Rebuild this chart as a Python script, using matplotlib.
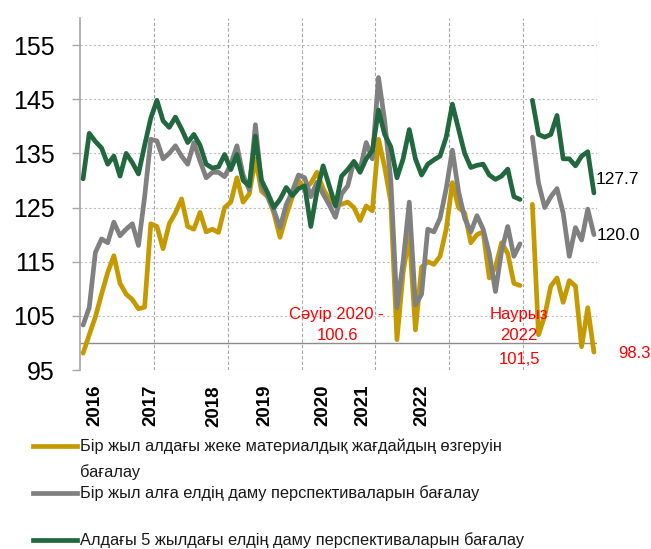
import numpy as np
import matplotlib
matplotlib.use("Agg")
import matplotlib.pyplot as plt
from matplotlib.lines import Line2D

nan = np.nan

# Monthly data Jan 2016 .. Dec 2022 (Jan 2022 missing)
personal_1y = [98.1, 101.5, 104.8, 109, 113, 116.1, 111, 109, 108, 106.3, 106.6, 122,
               121.5, 117.4, 122, 124, 126.6, 121.5, 121, 124.1, 120.5, 121, 120.4, 125,
               126, 130.5, 126, 127.5, 134, 128, 127, 124, 119.5, 123.5, 127, 130,
               128.5, 129.5, 131.5, 128.5, 126.5, 125.5, 125.6, 126, 125, 122.6, 125.3, 124.4,
               137.6, 132.5, 126, 100.6, 113, 120, 102.4, 114, 115, 114.5, 116, 121,
               129.6, 125, 124, 118.5, 120, 120.5, 112, 114, 118.5, 116.5, 111, 110.6,
               nan, 125.6, 101.5, 105, 110.5, 112, 107.5, 111.5, 110.5, 99.3, 106.5, 98.3]

country_1y = [103.3, 106.5, 116.7, 119.2, 118.5, 122.3, 119.8, 121, 122, 118, 127, 137.6,
              137.3, 134, 135, 136.4, 134.5, 133, 137, 133.6, 130.5, 131.5, 131.5, 130.7,
              133, 136.4, 131, 128.3, 140.3, 129, 127, 124.5, 121.3, 125.5, 128, 131,
              130.5, 127, 129.7, 127.5, 125.5, 123.2, 127.5, 129, 133.5, 132, 137, 134,
              149, 141, 130, 106.5, 115, 126, 107, 109, 121, 120.5, 123, 128.5,
              135.6, 128, 123, 120.5, 123.5, 121, 116.5, 109.5, 117, 121.5, 116, 118.3,
              nan, 138, 129.5, 125, 127, 128.5, 124, 116, 121.3, 119, 124.7, 120.0]

country_5y = [130.3, 138.7, 137.2, 136, 133, 134.5, 130.8, 135, 133.3, 131.2, 136.5, 141.5,
              144.8, 141, 139.8, 141.7, 139.5, 137, 138.5, 136.5, 133, 132.3, 132.5, 134.8,
              132, 134.8, 130, 129, 138.2, 130, 127.7, 125, 126.5, 128.7, 127.2, 128.5,
              129, 121.5, 128, 132.7, 129, 125.3, 130.8, 132, 133.5, 131.5, 134, 135.5,
              143, 138.5, 136.2, 130.5, 134, 139.4, 134, 131, 133, 133.8, 134.5, 138,
              144.1, 139.5, 135, 132.4, 132.8, 133, 131, 130.2, 130.8, 132.1, 127, 126.5,
              nan, 144.8, 138.5, 138, 138.5, 142, 134, 134, 132.7, 134.5, 135.3, 127.7]

year_labels = ["2016", "2017", "2018", "2019", "2020", "2021", "2022"]
year_label_pos = [2.4, 11.5, 21.7, 30.1, 39.5, 46.0, 55.5]

series_names = ["Бір жыл алдағы жеке материалдық жағдайдың өзгеруін\nбағалау",
                "Бір жыл алға елдің даму перспективаларын бағалау",
                "Алдағы 5 жылдағы елдің даму перспективаларын бағалау"]
colors = ["#C49A00", "#808080", "#21683F"]

yticks = [95, 105, 115, 125, 135, 145, 155]

W, H = 651, 549
fig = plt.figure(figsize=(W / 100, H / 100), dpi=100)
ax = fig.add_axes([80 / W, 1 - 370 / H, (597 - 80) / W, (370 - 18) / H])

x = np.arange(len(personal_1y)) + 0.5
for vals, c in zip([personal_1y, country_1y, country_5y], colors):
    ax.plot(x, vals, color=c, lw=3.4, solid_joinstyle="round", solid_capstyle="round", zorder=3)

ax.set_xlim(0, 84)
ax.set_ylim(95, 160)
ax.set_yticks(yticks)
ax.set_yticklabels([str(v) for v in yticks], fontsize=18, family="Liberation Sans")
ax.tick_params(axis="y", length=6, color="#A6A6A6", width=1, pad=12)
ax.set_xticks([])
for v in yticks:
    ax.axhline(v, color="#BFBFBF", lw=0.8, ls=(0, (2, 2)), zorder=1)
for v in range(12, 85, 12):
    ax.axvline(v, color="#A6A6A6", lw=0.8, ls=(0, (3, 2)), zorder=1)
ax.axhline(100, color="#8C8C8C", lw=1.0, zorder=2)
for s in ["top", "right", "bottom"]:
    ax.spines[s].set_visible(False)
ax.spines["left"].set_color("#A6A6A6")
ax.spines["left"].set_linewidth(1.2)

trans = matplotlib.transforms.blended_transform_factory(ax.transData, ax.transAxes)
for lab, pos in zip(year_labels, year_label_pos):
    ax.text(pos, -15 / 352, lab, transform=trans, rotation=90, ha="center", va="top",
            fontsize=13.5, fontweight="bold", family="Liberation Sans")

def ftext(px, py, s, **kw):
    fig.text(px / W, 1 - py / H, s, **kw)

red = "#FF0000"
ftext(336, 315, "Сәуір 2020 -", color=red, fontsize=12, ha="center", va="center", family="Liberation Sans")
ftext(337, 336, "100.6", color=red, fontsize=12, ha="center", va="center", family="Liberation Sans")
ftext(519, 314, "Наурыз", color=red, fontsize=12, ha="center", va="center", family="Liberation Sans")
ftext(519, 336, "2022", color=red, fontsize=12, ha="center", va="center", family="Liberation Sans")
ftext(519, 359, "101,5", color=red, fontsize=12, ha="center", va="center", family="Liberation Sans")
ftext(618, 353, "98.3", color=red, fontsize=12, ha="left", va="center", family="Liberation Sans")
ftext(596, 179, "127.7", color="black", fontsize=12.5, ha="left", va="center", family="Liberation Sans")
ftext(597, 235, "120.0", color="black", fontsize=12.5, ha="left", va="center", family="Liberation Sans")

# Legend (manual)
leg_y = [446, 493, 540]
for name, c, ly in zip(series_names, colors, leg_y):
    fig.add_artist(Line2D([33 / W, 77 / W], [1 - ly / H, 1 - ly / H], color=c, lw=3.4,
                          transform=fig.transFigure))
    lines = name.split("\n")
    for k, ln in enumerate(lines):
        ftext(80, ly + 26 * k, ln, fontsize=11.8, ha="left", va="center",
              family="Liberation Sans", color="#1a1a1a")

fig.savefig("out.png", dpi=100)
